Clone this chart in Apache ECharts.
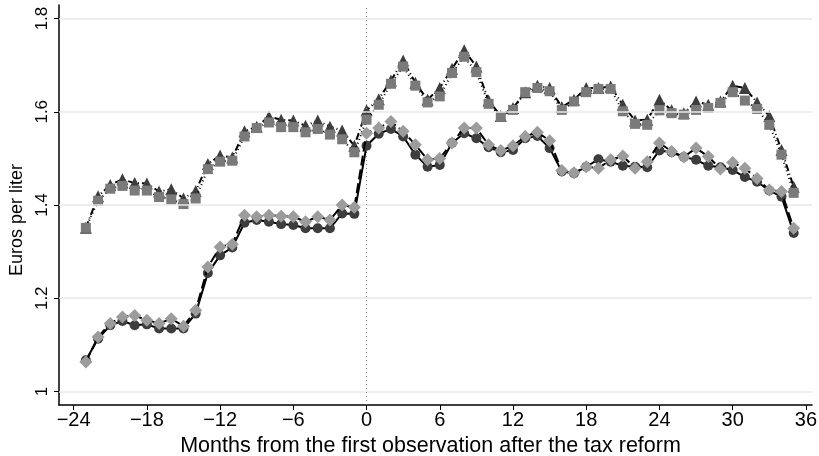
<!DOCTYPE html>
<html>
<head>
<meta charset="utf-8">
<script src="https://cdn.jsdelivr.net/npm/echarts@6/dist/echarts.min.js"></script>
<style>
  html, body { margin: 0; padding: 0; background: #fff; }
  #chart { width: 819px; height: 456px; }
</style>
</head>
<body>
<div id="chart"></div>
<script>
// months relative to the first observation after the reform
var months = [];
for (var m = -23; m <= 35; m++) months.push(m);

// upper pair (triangles / squares)
var triangleVals = [
  1.351, 1.419, 1.443, 1.455, 1.447, 1.446, 1.429, 1.434, 1.414, 1.430,
  1.488, 1.506, 1.502, 1.558, 1.568, 1.590, 1.583, 1.581, 1.570, 1.581,
  1.568, 1.560, 1.527, 1.603, 1.627, 1.667, 1.710, 1.662, 1.626, 1.651,
  1.692, 1.732, 1.697, 1.624, 1.591, 1.608, 1.642, 1.656, 1.651, 1.610,
  1.626, 1.651, 1.651, 1.654, 1.615, 1.581, 1.583, 1.626, 1.603, 1.597,
  1.622, 1.615, 1.622, 1.656, 1.651, 1.620, 1.591, 1.518, 1.439
];
var squareVals = [
  1.351, 1.409, 1.435, 1.441, 1.431, 1.431, 1.417, 1.412, 1.402, 1.414,
  1.477, 1.493, 1.495, 1.547, 1.565, 1.577, 1.567, 1.567, 1.556, 1.563,
  1.551, 1.541, 1.513, 1.583, 1.615, 1.660, 1.697, 1.656, 1.620, 1.633,
  1.683, 1.718, 1.685, 1.617, 1.589, 1.604, 1.642, 1.651, 1.644, 1.604,
  1.622, 1.642, 1.649, 1.649, 1.601, 1.574, 1.572, 1.603, 1.597, 1.594,
  1.604, 1.608, 1.619, 1.642, 1.624, 1.606, 1.572, 1.508, 1.426
];
// lower pair (circles / diamonds)
var circleVals = [
  1.067, 1.113, 1.142, 1.151, 1.142, 1.144, 1.135, 1.135, 1.135, 1.167,
  1.254, 1.292, 1.309, 1.362, 1.368, 1.364, 1.359, 1.357, 1.350, 1.350,
  1.350, 1.382, 1.381, 1.527, 1.553, 1.563, 1.547, 1.508, 1.482, 1.486,
  1.533, 1.554, 1.543, 1.524, 1.513, 1.518, 1.543, 1.548, 1.522, 1.472,
  1.468, 1.482, 1.498, 1.493, 1.484, 1.482, 1.481, 1.517, 1.513, 1.503,
  1.497, 1.484, 1.481, 1.475, 1.460, 1.450, 1.431, 1.418, 1.340
];
var diamondVals = [
  1.063, 1.117, 1.146, 1.160, 1.163, 1.153, 1.146, 1.156, 1.140, 1.174,
  1.267, 1.310, 1.316, 1.378, 1.375, 1.378, 1.376, 1.375, 1.364, 1.375,
  1.368, 1.400, 1.395, 1.554, 1.565, 1.579, 1.558, 1.529, 1.497, 1.500,
  1.533, 1.565, 1.565, 1.529, 1.517, 1.527, 1.547, 1.556, 1.538, 1.474,
  1.469, 1.482, 1.479, 1.497, 1.505, 1.479, 1.493, 1.533, 1.515, 1.503,
  1.522, 1.504, 1.477, 1.491, 1.479, 1.457, 1.432, 1.429, 1.350
];

var xTicks = [-24, -18, -12, -6, 0, 6, 12, 18, 24, 30, 36];
var yTicks = [1, 1.2, 1.4, 1.6, 1.8];

function pairs(vals) {
  return vals.map(function (v, i) { return [months[i], v]; });
}

function makeSeries(name, vals, symbol, size, color, dash, z) {
  return {
    name: name,
    type: "line",
    data: pairs(vals),
    symbol: symbol,
    symbolSize: size,
    showAllSymbol: true,
    itemStyle: { color: color },
    lineStyle: { color: "#000", width: 2, type: dash },
    z: z,
    animation: false
  };
}

var chart = echarts.init(document.getElementById("chart"));

chart.setOption({
  animation: false,
  textStyle: { fontFamily: "Liberation Sans, Arial, sans-serif" },
  grid: { left: 59, right: 7, top: 5, bottom: 51, containLabel: false, outerBoundsMode: "none" },
  xAxis: {
    type: "value",
    min: -25.2,
    max: 36.5,
    name: "Months from the first observation after the tax reform",
    nameLocation: "middle",
    nameGap: 30,
    nameTextStyle: { fontSize: 21.5, color: "#000", padding: [0, 10, 0, 0] },
    axisLine: { onZero: false, lineStyle: { color: "#000", width: 1.5 } },
    axisTick: { length: 5, lineStyle: { color: "#000" }, customValues: xTicks },
    axisLabel: { color: "#000", fontSize: 20, margin: 5, customValues: xTicks,
      formatter: function (v) { return v < 0 ? "\u2212" + (-v) : String(v); } },
    splitLine: { show: false }
  },
  yAxis: {
    type: "value",
    min: 0.971,
    max: 1.829,
    name: "Euros per liter",
    nameLocation: "middle",
    nameRotate: 90,
    nameGap: 29,
    nameTextStyle: { fontSize: 18, color: "#000", padding: [0, 30, 0, 0] },
    axisLine: { show: true, onZero: false, lineStyle: { color: "#000", width: 1.5 } },
    axisTick: { show: true, length: 5, lineStyle: { color: "#000" }, customValues: yTicks },
    axisLabel: { color: "#000", fontSize: 17, rotate: 90, margin: 8, customValues: yTicks },
    splitLine: { show: false }
  },
  series: [
    {
      // grid lines and the reform marker
      type: "line",
      data: [],
      z: 1,
      markLine: {
        silent: true,
        symbol: "none",
        animation: false,
        label: { show: false },
        data: yTicks.map(function (t) {
          return { yAxis: t, lineStyle: { color: "#e8e8e8", width: 1.5, type: "solid" } };
        }).concat([{ xAxis: 0, lineStyle: { color: "#888", width: 1, type: [1, 3] } }])
      }
    },
    makeSeries("triangles", triangleVals, "triangle", 12, "#3d3d3d", [7, 3, 1, 3], 3),
    makeSeries("squares", squareVals, "rect", 10, "#7a7a7a", [1, 3], 4),
    makeSeries("circles", circleVals, "circle", 10, "#3d3d3d", "solid", 5),
    makeSeries("diamonds", diamondVals, "diamond", 13, "#9c9c9c", [10, 4], 6)
  ]
});
</script>
</body>
</html>
